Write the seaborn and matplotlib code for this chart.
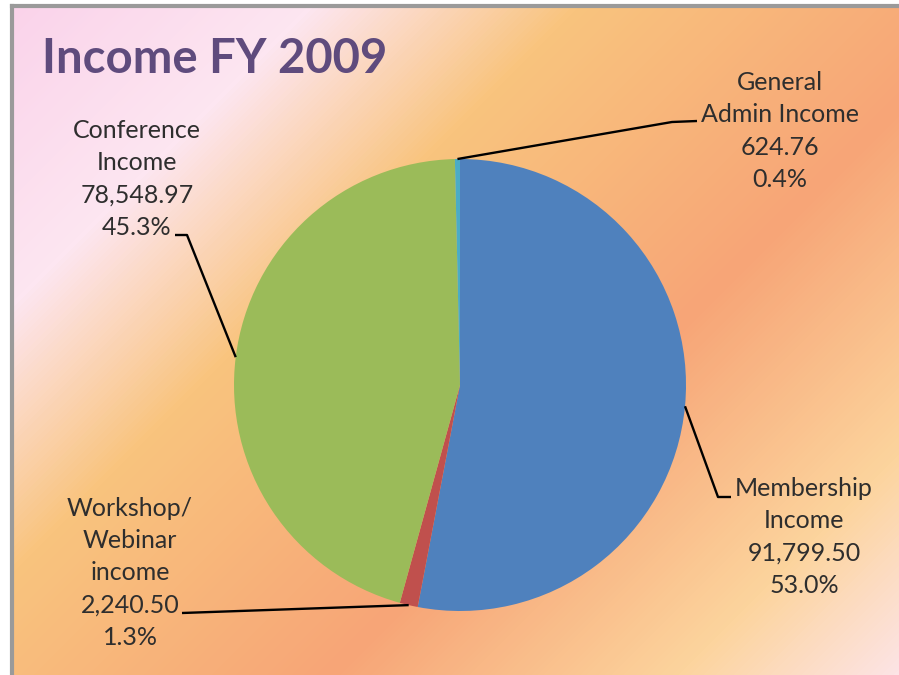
import numpy as np
import matplotlib
matplotlib.use("Agg")
import matplotlib.pyplot as plt
from matplotlib.colors import LinearSegmentedColormap
import seaborn as sns

# ---- data ----
categories = ["Membership\nIncome", "Workshop/\nWebinar\nincome",
              "Conference\nIncome", "General\nAdmin Income"]
values = [91799.50, 2240.50, 78548.97, 624.76]
colors = ["#4f81bd", "#c0504d", "#9bbb59", "#4bacc6"]
title = "Income FY 2009"

sns.set_theme(style="white")
plt.rcParams["font.family"] = ["Lato", "DejaVu Sans"]

W, H = 899, 675
fig = plt.figure(figsize=(W / 100, H / 100), dpi=100)
fig.patch.set_facecolor("white")

# ---- background gradient panel ----
bg = fig.add_axes([12 / W, 0, 1 - 12 / W, 1 - 6 / H])
gx, gy = np.meshgrid(np.arange(12, W), np.arange(6, H))
s = (gx + gy) / (W + H)
cmap = LinearSegmentedColormap.from_list(
    "bg", [(0.0, "#fad2ea"), (0.2, "#fde6f1"), (0.37, "#f9c47e"),
           (0.64, "#f7a577"), (0.86, "#fcd49d"), (1.0, "#fde4e6")])
bg.imshow(s, cmap=cmap, aspect="auto", vmin=0, vmax=1, interpolation="bilinear")
bg.set_xticks([]); bg.set_yticks([])
for side in ["right", "bottom"]:
    bg.spines[side].set_visible(False)
for side in ["left", "top"]:
    bg.spines[side].set_color("#9a9a9a")
    bg.spines[side].set_linewidth(3)

# ---- pie ----
cx, cy, R = 460, 385, 226
ax = fig.add_axes([(cx - R) / W, (H - cy - R) / H, 2 * R / W, 2 * R / H])
ax.patch.set_alpha(0)
wedges, _ = ax.pie(values, colors=colors, startangle=90, counterclock=False,
                   radius=1, wedgeprops=dict(linewidth=0))
ax.set_xlim(-1, 1); ax.set_ylim(-1, 1)
ax.set_aspect("equal")
ax.axis("off")


def P(x, y):
    return ((x - cx) / R, (cy - y) / R)


total = sum(values)
# layout for labels: (text centre), leader path points (pixels)
text_pos = [(804, 537), (130, 573), (137, 179), (780, 131)]
leader_pts = [[(718, 497), (731, 497)],
              [(182, 613)],
              [(187, 235), (175, 235)],
              [(672, 122), (697, 121)]]

for w, cat, val, tp, pts in zip(wedges, categories, values, text_pos, leader_pts):
    mid = np.deg2rad((w.theta1 + w.theta2) / 2)
    ax0 = (np.cos(mid), np.sin(mid))
    path = [ax0] + [P(*p) for p in pts]
    xs, ys = zip(*path)
    ax.plot(xs, ys, color="black", lw=1.7, clip_on=False, solid_capstyle="butt")
    label = f"{cat}\n{val:,.2f}\n{val / total * 100:.1f}%"
    tx, ty = P(*tp)
    ax.text(tx, ty, label, ha="center", va="center", multialignment="center",
            fontsize=18, color="#2e2e2e", linespacing=1.48, clip_on=False)

fig.text(42 / W, 1 - 73 / H, title, fontsize=34, fontweight="bold",
         color="#5f4b7d", ha="left", va="baseline")

fig.savefig("out.png", dpi=100)
